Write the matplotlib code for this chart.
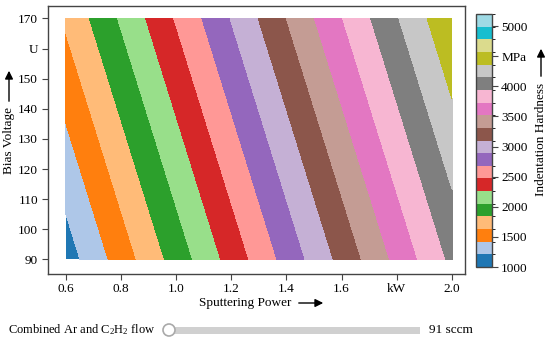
import numpy as np
import matplotlib
matplotlib.use("Agg")
import matplotlib.pyplot as plt
from matplotlib.colors import ListedColormap, BoundaryNorm
from matplotlib.cm import ScalarMappable
from matplotlib.patches import Rectangle, Circle

plt.rcParams['font.family'] = ['Liberation Serif', 'DejaVu Serif']
plt.rcParams['font.size'] = 9.5
plt.rcParams['mathtext.fontset'] = 'custom'
plt.rcParams['mathtext.rm'] = 'Liberation Serif'
plt.rcParams['mathtext.default'] = 'rm'

# Hardness (MPa) read at grid nodes: rows = bias voltage, cols = sputtering power
power_kw = [0.6, 0.8, 1.0, 1.2, 1.4, 1.6, 1.8, 2.0]
bias_v = [90, 130, 170]
hardness = [
    [1103, 1515, 1927, 2339, 2751, 3163, 3575, 3987],
    [1383, 1795, 2207, 2619, 3031, 3443, 3855, 4267],
    [1663, 2075, 2487, 2899, 3311, 3723, 4135, 4547],
]
levels = np.linspace(1000, 5200, 21)
x_ticks = [0.6, 0.8, 1.0, 1.2, 1.4, 1.6, 1.8, 2.0]
x_labels = ['0.6', '0.8', '1.0', '1.2', '1.4', '1.6', 'kW', '2.0']
y_ticks = [90, 100, 110, 120, 130, 140, 150, 160, 170]
y_labels = ['90', '100', '110', '120', '130', '140', '150', 'U', '170']
cb_ticks = [1000, 1500, 2000, 2500, 3000, 3500, 4000, 4500, 5000]
cb_labels = ['1000', '1500', '2000', '2500', '3000', '3500', '4000', 'MPa', '5000']
flow_value = 91

W, H = 550, 342
fig = plt.figure(figsize=(W / 100, H / 100), dpi=100)

def fx(px):
    return px / W

def fy(py):
    return 1 - py / H

cmap = ListedColormap(plt.get_cmap('tab20').colors)
norm = BoundaryNorm(levels, cmap.N)

ax = fig.add_axes([fx(47.7), fy(273.5), fx(465) - fx(47.7), fy(5.5) - fy(273.5)])
ax.contourf(power_kw, bias_v, np.array(hardness), levels=levels, cmap=cmap, norm=norm)
ax.set_xlim(0.535, 2.047)
ax.set_ylim(85.3, 174.3)
ax.set_xticks(x_ticks)
ax.set_xticklabels(x_labels)
ax.set_yticks(y_ticks)
ax.set_yticklabels(y_labels)
for s in ax.spines.values():
    s.set_color('#444444')
    s.set_linewidth(1.0)
ax.tick_params(direction='out', length=4, width=0.8, color='#444444', pad=3)

cax = fig.add_axes([fx(475.5), fy(267), fx(491.5) - fx(475.5), fy(14) - fy(267)])
sm = ScalarMappable(norm=norm, cmap=cmap)
cb = fig.colorbar(sm, cax=cax, ticks=cb_ticks, spacing='proportional')
cb.ax.set_yticklabels(cb_labels)
cb.outline.set_edgecolor('#444444')
cb.outline.set_linewidth(1.0)
cax.tick_params(direction='out', length=4, width=0.8, color='#444444', pad=3)

# axis titles with arrows
fig.text(fx(245), fy(303), 'Sputtering Power', ha='center', va='center')
ax.annotate('', xy=(326, H - 303), xytext=(296, H - 303), xycoords='figure pixels',
            textcoords='figure pixels',
            arrowprops=dict(arrowstyle='-|>', color='black', lw=1.0, mutation_scale=12))

fig.text(fx(9), fy(140), 'Bias Voltage', ha='center', va='center', rotation=90)
ax.annotate('', xy=(9, H - 68), xytext=(9, H - 104), xycoords='figure pixels',
            textcoords='figure pixels',
            arrowprops=dict(arrowstyle='-|>', color='black', lw=1.0, mutation_scale=12))

fig.text(fx(541), fy(139), 'Indentation Hardness', ha='center', va='center', rotation=90)
ax.annotate('', xy=(541, H - 46), xytext=(541, H - 79), xycoords='figure pixels',
            textcoords='figure pixels',
            arrowprops=dict(arrowstyle='-|>', color='black', lw=1.0, mutation_scale=12))

# slider
fig.text(fx(8), fy(330), r'Combined Ar and C$_2$H$_2$ flow', ha='left', va='center',
         fontsize=9)
fig.patches.append(Rectangle((fx(170), fy(333.5)), fx(420) - fx(170), fy(326.5) - fy(333.5),
                             transform=fig.transFigure, facecolor='#d0d0d0', edgecolor='none'))
knob = Circle((169, H - 330), 6, transform=None, facecolor='white',
              edgecolor='#aaaaaa', linewidth=1.2)
fig.patches.append(knob)
fig.text(fx(429), fy(330), f'{flow_value} sccm', ha='left', va='center')

fig.savefig('out.png', dpi=100)
